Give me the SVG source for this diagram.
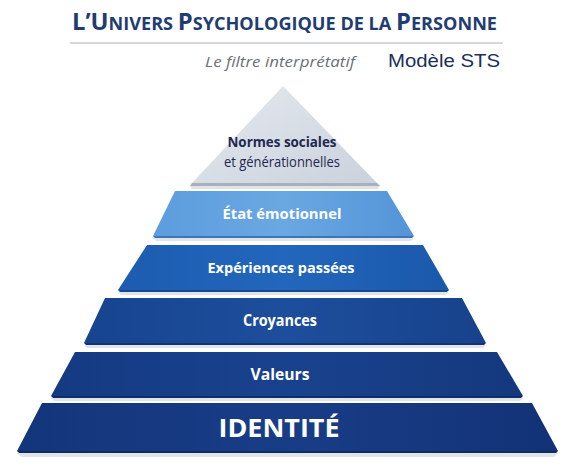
<svg xmlns="http://www.w3.org/2000/svg" width="579" height="465" viewBox="0 0 579 465">
<defs>
<style>
.title{font-family:"Open Sans","Noto Sans",sans-serif;font-weight:700;fill:#1f3d73}
.sub{font-family:"Open Sans","Noto Sans",sans-serif;font-style:italic;font-size:15px;fill:#6b7078}
.model{font-family:"Liberation Sans",Arial,sans-serif;font-size:18px;fill:#1c2f5c}
.lbl{font-family:"Open Sans","Noto Sans",sans-serif;fill:#ffffff;text-anchor:middle}
.dark{fill:#1e2850}
.shadow{fill:#c9ccd2;opacity:0.55}
</style>
<linearGradient id="gTop" x1="0" y1="0" x2="1" y2="1">
<stop offset="0" stop-color="#e6eaef"/><stop offset="1" stop-color="#c9d1dc"/>
</linearGradient>
<linearGradient id="gEtat" x1="0" y1="0" x2="1" y2="0">
<stop offset="0" stop-color="#5d9ddd"/><stop offset="0.5" stop-color="#6aa8e3"/><stop offset="1" stop-color="#5494d7"/>
</linearGradient>
<linearGradient id="gExp" x1="0" y1="0" x2="1" y2="0">
<stop offset="0" stop-color="#1c5cb0"/><stop offset="0.5" stop-color="#2267bd"/><stop offset="1" stop-color="#1a58aa"/>
</linearGradient>
<linearGradient id="gCro" x1="0" y1="0" x2="1" y2="0">
<stop offset="0" stop-color="#17448f"/><stop offset="0.5" stop-color="#1d4e9c"/><stop offset="1" stop-color="#17428b"/>
</linearGradient>
<linearGradient id="gVal" x1="0" y1="0" x2="1" y2="0">
<stop offset="0" stop-color="#143a82"/><stop offset="0.5" stop-color="#19428e"/><stop offset="1" stop-color="#14387d"/>
</linearGradient>
<linearGradient id="gId" x1="0" y1="0" x2="1" y2="0">
<stop offset="0" stop-color="#13357a"/><stop offset="0.5" stop-color="#183d87"/><stop offset="1" stop-color="#123276"/>
</linearGradient>
</defs>
<rect width="579" height="465" fill="#ffffff"/>

<g id="header">
<text class="title" x="72" y="30" textLength="425" lengthAdjust="spacingAndGlyphs"><tspan font-size="23">L’U</tspan><tspan font-size="17.5">NIVERS </tspan><tspan font-size="23">P</tspan><tspan font-size="17.5">SYCHOLOGIQUE DE LA </tspan><tspan font-size="23">P</tspan><tspan font-size="17.5">ERSONNE</tspan></text>
<line x1="70" y1="43" x2="503" y2="43" stroke="#aab1bc" stroke-width="1"/>
<text class="sub" x="205" y="67" textLength="150" lengthAdjust="spacingAndGlyphs">Le filtre interprétatif</text>
<text class="model" x="388" y="67" textLength="112" lengthAdjust="spacingAndGlyphs">Modèle STS</text>
</g>

<g id="normes">
<polygon class="shadow" points="190,186 380,186 378,189 192,189"/>
<polygon points="283,86 377,183 380,186 190,186 192,183" fill="url(#gTop)"/>
<polygon points="192,183 377,183 380,186 190,186" fill="#a9b0ba"/>
<text class="lbl dark" x="282" y="147" style="font-size:14.5px;font-weight:700" textLength="109" lengthAdjust="spacingAndGlyphs">Normes sociales</text>
<text class="lbl dark" x="282" y="167" style="font-size:14px;font-weight:400" textLength="116" lengthAdjust="spacingAndGlyphs">et générationnelles</text>
</g>

<g id="etat">
<polygon class="shadow" points="153,238 414,238 411,241 156,241"/>
<polygon points="175,191 387,191 414,236 153,236" fill="url(#gEtat)"/>
<polygon points="153,236 414,236 412,238 155,238" fill="#3c76b8"/>
<text class="lbl" x="282" y="219" style="font-size:15px;font-weight:700" textLength="119" lengthAdjust="spacingAndGlyphs">État émotionnel</text>
</g>

<g id="experiences">
<polygon class="shadow" points="118,292 449,292 446,295 121,295"/>
<polygon points="147,245 423,245 449,290 118,290" fill="url(#gExp)"/>
<polygon points="118,290 449,290 447,292 120,292" fill="#154a92"/>
<text class="lbl" x="281" y="273" style="font-size:15px;font-weight:700" textLength="147" lengthAdjust="spacingAndGlyphs">Expériences passées</text>
</g>

<g id="croyances">
<polygon class="shadow" points="84,345 486,345 483,348 87,348"/>
<polygon points="105,298 462,298 486,343 84,343" fill="url(#gCro)"/>
<polygon points="84,343 486,343 484,345 86,345" fill="#103576"/>
<text class="lbl" x="280" y="326" style="font-size:15.5px;font-weight:700" textLength="74" lengthAdjust="spacingAndGlyphs">Croyances</text>
</g>

<g id="valeurs">
<polygon class="shadow" points="51,398 523,398 520,401 54,401"/>
<polygon points="75,352 497,352 523,396 51,396" fill="url(#gVal)"/>
<polygon points="51,396 523,396 521,398 53,398" fill="#0f2f6c"/>
<text class="lbl" x="280" y="380" style="font-size:15.5px;font-weight:700" textLength="59" lengthAdjust="spacingAndGlyphs">Valeurs</text>
</g>

<g id="identite">
<polygon class="shadow" points="17,453 558,453 554,457 21,457"/>
<polygon points="42,403 532,403 558,451 17,451" fill="url(#gId)"/>
<polygon points="17,451 558,451 556,453 19,453" fill="#0e2b64"/>
<text class="lbl" x="279" y="437" style="font-size:25px;font-weight:700" textLength="121" lengthAdjust="spacingAndGlyphs">IDENTITÉ</text>
</g>

<g id="connectors"></g>
</svg>
